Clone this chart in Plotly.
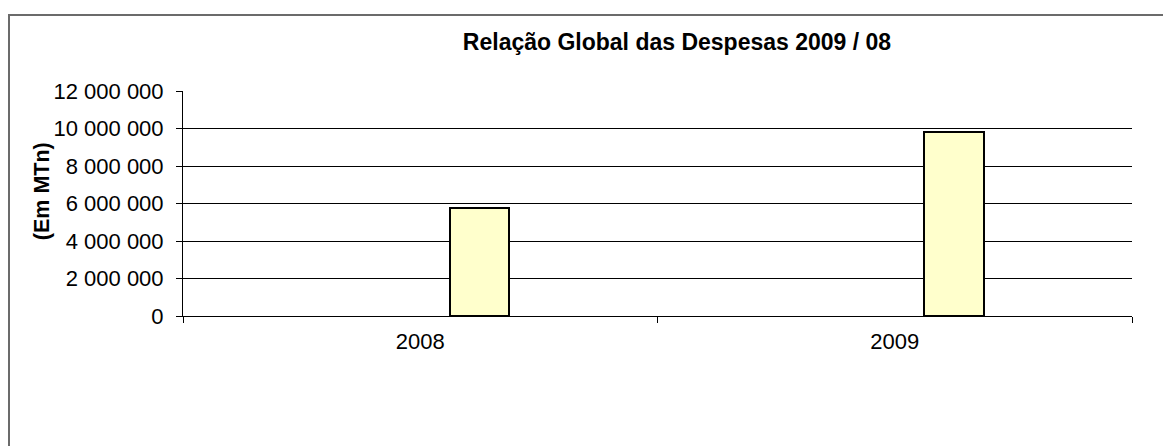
import plotly.graph_objects as go

years = ["2008", "2009"]
despesas = [5760000, 9810000]
y_ticks = [0, 2000000, 4000000, 6000000, 8000000, 10000000, 12000000]

# page body has an 8px margin: work in figure coordinates (screen - 8)
OFF = 8
W, H = 1171 - OFF, 446 - OFF
L, R, T, B = 183 - OFF, 39, 90.5 - OFF, 446 - 316.3
pw, ph = W - L - R, H - T - B

def px_x(x):
    return (x - OFF - L) / pw

def px_y(y):
    return (H - B - (y - OFF)) / ph

FONT = "Arial, Liberation Sans, sans-serif"

fig = go.Figure()
fig.add_trace(go.Bar(
    x=years, y=despesas,
    offset=0.0625, width=0.125,
    marker=dict(color="#FFFFCC", line=dict(color="#000000", width=2)),
    showlegend=False,
))

fig.update_layout(
    width=W, height=H,
    margin=dict(l=L, r=R, t=T, b=B, pad=0),
    paper_bgcolor="white", plot_bgcolor="white",
    separators=", ",
    font=dict(family=FONT, size=22, color="#000000"),
    title=dict(text="<b>Relação Global das Despesas 2009 / 08</b>",
               x=px_x(677), xref="paper", xanchor="center",
               y=1 - (42 - OFF) / H, yref="container", yanchor="middle",
               font=dict(family=FONT, size=23, color="#000000")),
    xaxis=dict(type="category", showline=True, linecolor="#000000", linewidth=1,
               ticks="outside", tickson="boundaries", ticklen=6, tickcolor="#000000",
               showgrid=False, tickfont=dict(size=22), ticklabelstandoff=6),
    yaxis=dict(range=[0, 12000000], tickvals=y_ticks, tickformat=",d",
               showline=True, linecolor="#000000", linewidth=1,
               ticks="outside", ticklen=6, tickcolor="#000000",
               showgrid=True, gridcolor="#000000", gridwidth=1,
               zeroline=False, tickfont=dict(size=22), ticklabelstandoff=8),
    bargap=0,
    shapes=[dict(type="rect", xref="paper", yref="paper",
                 x0=px_x(9), x1=px_x(1190), y0=px_y(470), y1=px_y(14.3),
                 line=dict(color="#6b6b6b", width=2), fillcolor="rgba(0,0,0,0)",
                 layer="below")],
    annotations=[dict(text="<b>(Em MTn)</b>", textangle=-90,
                      xref="paper", yref="paper", x=px_x(42), y=px_y(191),
                      xanchor="center", yanchor="middle", showarrow=False,
                      font=dict(family=FONT, size=21.5, color="#000000"))],
)

fig.write_html("out.html")
